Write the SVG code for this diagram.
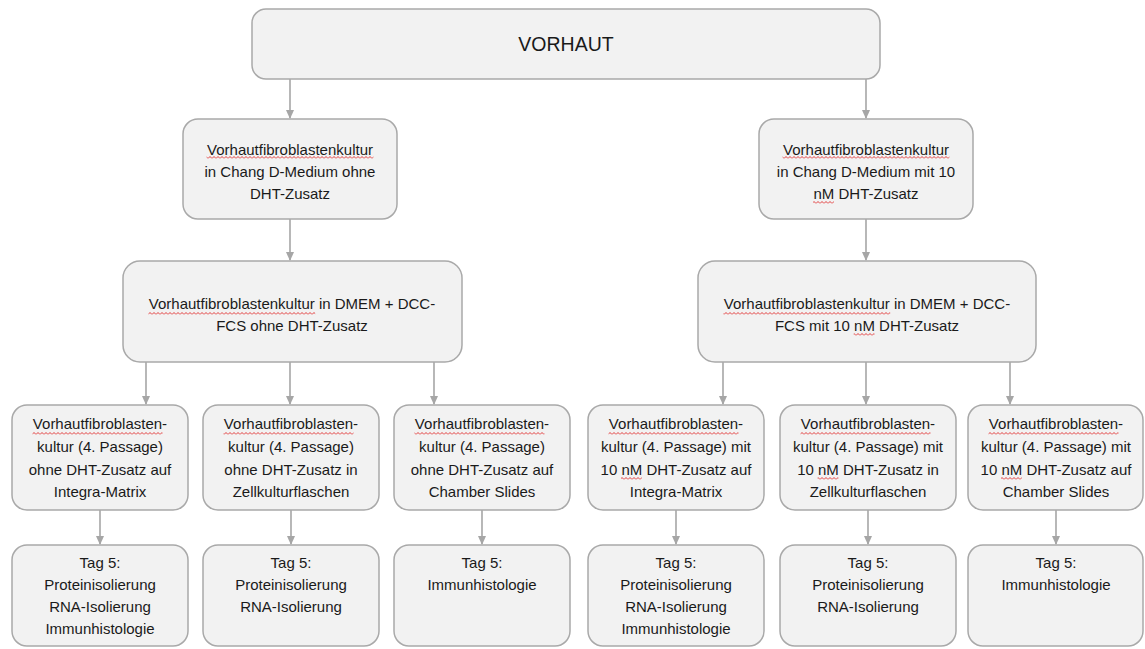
<svg xmlns="http://www.w3.org/2000/svg" width="1145" height="649" viewBox="0 0 1145 649">
<style>
.box{fill:#F2F2F2;stroke:#A9A9A9;stroke-width:1.5}
.t{font-family:"Liberation Sans",Arial,sans-serif;font-size:15px;fill:#1A1A1A;text-anchor:middle}
.big{font-size:19.5px}
.sq{fill:url(#wavy)}
.con line{stroke:#A6A6A6;stroke-width:1.6;marker-end:url(#ah)}
</style>
<defs>
<marker id="ah" markerUnits="userSpaceOnUse" markerWidth="10" markerHeight="10" refX="8" refY="5" orient="auto">
<path d="M0,1 L9,5 L0,9 Z" fill="#A6A6A6"/>
</marker>
<pattern id="wavy" patternUnits="userSpaceOnUse" x="0" y="0" width="4" height="3">
<polyline points="0,2.5 2,0.5 4,2.5" fill="none" stroke="#E02828" stroke-width="0.9"/>
</pattern>
</defs>
<rect width="1145" height="649" fill="#FFFFFF"/>

<g class="con">
<line x1="290" y1="79" x2="290" y2="118"/>
<line x1="866" y1="79" x2="866" y2="118"/>
<line x1="290" y1="219" x2="290" y2="260"/>
<line x1="866" y1="219" x2="866" y2="260"/>
<line x1="146" y1="362" x2="146" y2="404"/>
<line x1="290" y1="362" x2="290" y2="404"/>
<line x1="434" y1="362" x2="434" y2="404"/>
<line x1="723" y1="362" x2="723" y2="404"/>
<line x1="866" y1="362" x2="866" y2="404"/>
<line x1="1010" y1="362" x2="1010" y2="404"/>
<line x1="100" y1="510" x2="100" y2="544"/>
<line x1="291" y1="510" x2="291" y2="544"/>
<line x1="482" y1="510" x2="482" y2="544"/>
<line x1="676" y1="510" x2="676" y2="544"/>
<line x1="868" y1="510" x2="868" y2="544"/>
<line x1="1056" y1="510" x2="1056" y2="544"/>
</g>

<g id="n_vorhaut">
<rect class="box" x="252" y="9" width="628" height="70" rx="14"/>
<text class="t big" x="566" y="51">VORHAUT</text>
</g>

<g id="n_chang_ohne">
<rect class="box" x="183" y="119" width="214" height="100" rx="15"/>
<text class="t" x="290" y="155">Vorhautfibroblastenkultur</text>
<text class="t" x="290" y="177">in Chang D-Medium ohne</text>
<text class="t" x="290" y="199">DHT-Zusatz</text>
<rect class="sq" x="206.6" y="156" width="166.8" height="3"/>
</g>

<g id="n_chang_mit">
<rect class="box" x="759" y="119" width="214" height="100" rx="15"/>
<text class="t" x="866" y="155">Vorhautfibroblastenkultur</text>
<text class="t" x="866" y="177">in Chang D-Medium mit 10</text>
<text class="t" x="866" y="199">nM DHT-Zusatz</text>
<rect class="sq" x="782.6" y="156" width="166.8" height="3"/>
<rect class="sq" x="813.1" y="201" width="20.8" height="3"/>
</g>

<g id="n_dmem_ohne">
<rect class="box" x="123" y="261" width="339" height="101" rx="17"/>
<text class="t" x="292" y="309">Vorhautfibroblastenkultur in DMEM + DCC-</text>
<text class="t" x="292" y="331">FCS ohne DHT-Zusatz</text>
<rect class="sq" x="148.4" y="312" width="166.8" height="3"/>
</g>

<g id="n_dmem_mit">
<rect class="box" x="698" y="261" width="338" height="101" rx="17"/>
<text class="t" x="867" y="309">Vorhautfibroblastenkultur in DMEM + DCC-</text>
<text class="t" x="867" y="331">FCS mit 10 nM DHT-Zusatz</text>
<rect class="sq" x="723.4" y="312" width="166.8" height="3"/>
<rect class="sq" x="853.7" y="333" width="20.8" height="3"/>
</g>

<g id="n_p_ohne_integra">
<rect class="box" x="12" y="405" width="176" height="105" rx="15"/>
<text class="t" x="100" y="429">Vorhautfibroblasten-</text>
<text class="t" x="100" y="452">kultur (4. Passage)</text>
<text class="t" x="100" y="475">ohne DHT-Zusatz auf</text>
<text class="t" x="100" y="497">Integra-Matrix</text>
<rect class="sq" x="32.5" y="432" width="130" height="3"/>
</g>

<g id="n_p_ohne_flaschen">
<rect class="box" x="203" y="405" width="176" height="105" rx="15"/>
<text class="t" x="291" y="429">Vorhautfibroblasten-</text>
<text class="t" x="291" y="452">kultur (4. Passage)</text>
<text class="t" x="291" y="475">ohne DHT-Zusatz in</text>
<text class="t" x="291" y="497">Zellkulturflaschen</text>
<rect class="sq" x="223.5" y="432" width="130" height="3"/>
</g>

<g id="n_p_ohne_chamber">
<rect class="box" x="394" y="405" width="176" height="105" rx="15"/>
<text class="t" x="482" y="429">Vorhautfibroblasten-</text>
<text class="t" x="482" y="452">kultur (4. Passage)</text>
<text class="t" x="482" y="475">ohne DHT-Zusatz auf</text>
<text class="t" x="482" y="497">Chamber Slides</text>
<rect class="sq" x="414.5" y="432" width="130" height="3"/>
</g>

<g id="n_p_mit_integra">
<rect class="box" x="588" y="405" width="176" height="105" rx="15"/>
<text class="t" x="676" y="429">Vorhautfibroblasten-</text>
<text class="t" x="676" y="452">kultur (4. Passage) mit</text>
<text class="t" x="676" y="475">10 nM DHT-Zusatz auf</text>
<text class="t" x="676" y="497">Integra-Matrix</text>
<rect class="sq" x="608.5" y="432" width="130" height="3"/>
<rect class="sq" x="621" y="477" width="20.8" height="3"/>
</g>

<g id="n_p_mit_flaschen">
<rect class="box" x="780" y="405" width="176" height="105" rx="15"/>
<text class="t" x="868" y="429">Vorhautfibroblasten-</text>
<text class="t" x="868" y="452">kultur (4. Passage) mit</text>
<text class="t" x="868" y="475">10 nM DHT-Zusatz in</text>
<text class="t" x="868" y="497">Zellkulturflaschen</text>
<rect class="sq" x="800.5" y="432" width="130" height="3"/>
<rect class="sq" x="817.6" y="477" width="20.8" height="3"/>
</g>

<g id="n_p_mit_chamber">
<rect class="box" x="968" y="405" width="175" height="105" rx="15"/>
<text class="t" x="1056" y="429">Vorhautfibroblasten-</text>
<text class="t" x="1056" y="452">kultur (4. Passage) mit</text>
<text class="t" x="1056" y="475">10 nM DHT-Zusatz auf</text>
<text class="t" x="1056" y="497">Chamber Slides</text>
<rect class="sq" x="988.5" y="432" width="130" height="3"/>
<rect class="sq" x="1001" y="477" width="20.8" height="3"/>
</g>

<g id="n_tag5_1">
<rect class="box" x="12" y="545" width="176" height="101" rx="15"/>
<text class="t" x="100" y="568">Tag 5:</text>
<text class="t" x="100" y="590">Proteinisolierung</text>
<text class="t" x="100" y="612">RNA-Isolierung</text>
<text class="t" x="100" y="634">Immunhistologie</text>
</g>

<g id="n_tag5_2">
<rect class="box" x="203" y="545" width="176" height="101" rx="15"/>
<text class="t" x="291" y="568">Tag 5:</text>
<text class="t" x="291" y="590">Proteinisolierung</text>
<text class="t" x="291" y="612">RNA-Isolierung</text>
</g>

<g id="n_tag5_3">
<rect class="box" x="394" y="545" width="176" height="101" rx="15"/>
<text class="t" x="482" y="568">Tag 5:</text>
<text class="t" x="482" y="590">Immunhistologie</text>
</g>

<g id="n_tag5_4">
<rect class="box" x="588" y="545" width="176" height="101" rx="15"/>
<text class="t" x="676" y="568">Tag 5:</text>
<text class="t" x="676" y="590">Proteinisolierung</text>
<text class="t" x="676" y="612">RNA-Isolierung</text>
<text class="t" x="676" y="634">Immunhistologie</text>
</g>

<g id="n_tag5_5">
<rect class="box" x="780" y="545" width="176" height="101" rx="15"/>
<text class="t" x="868" y="568">Tag 5:</text>
<text class="t" x="868" y="590">Proteinisolierung</text>
<text class="t" x="868" y="612">RNA-Isolierung</text>
</g>

<g id="n_tag5_6">
<rect class="box" x="968" y="545" width="175" height="101" rx="15"/>
<text class="t" x="1056" y="568">Tag 5:</text>
<text class="t" x="1056" y="590">Immunhistologie</text>
</g>
</svg>
